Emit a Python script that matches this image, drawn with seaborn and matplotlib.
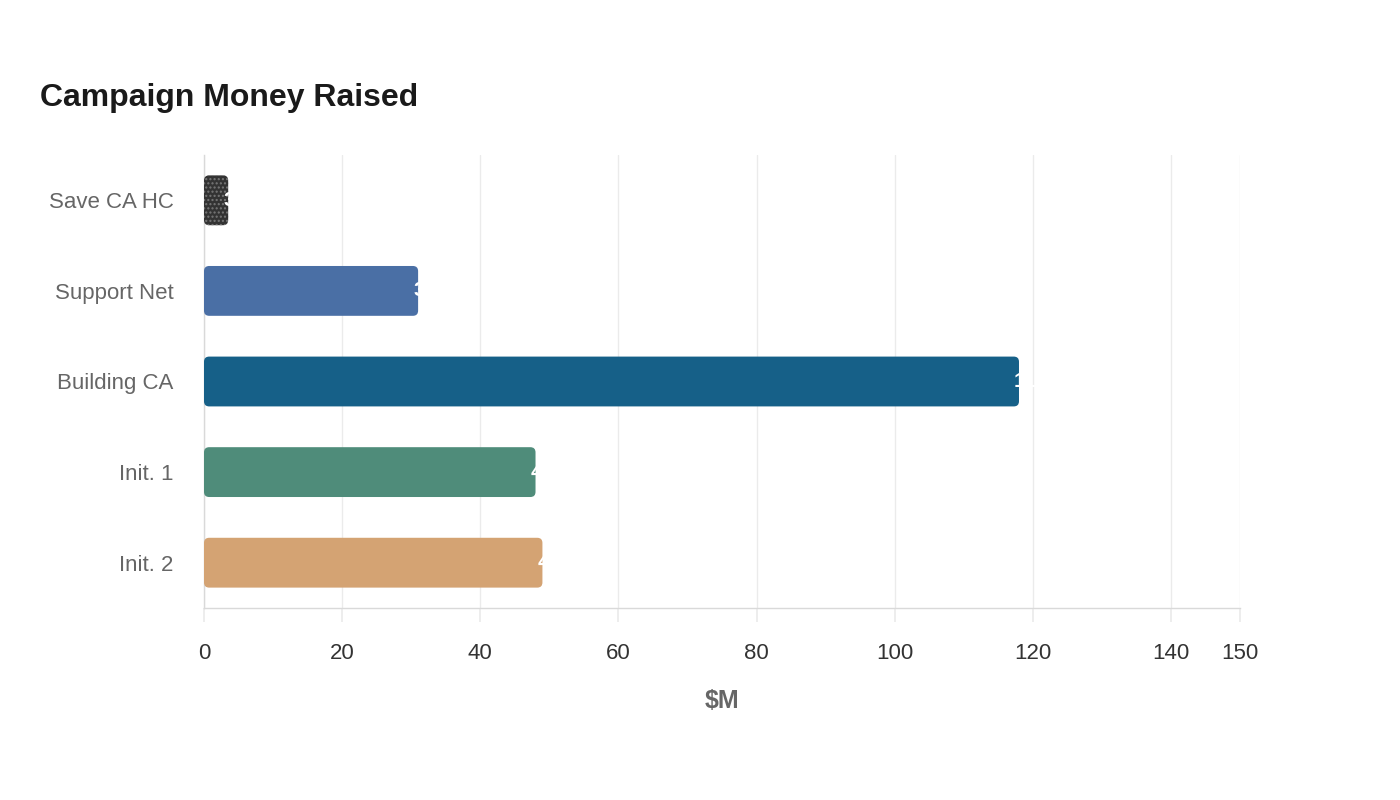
import pandas as pd
import numpy as np
import matplotlib
matplotlib.use("Agg")
import matplotlib.pyplot as plt
import seaborn as sns
from matplotlib.patches import FancyBboxPatch
from matplotlib.transforms import offset_copy

# --- data ---
campaigns = ["Save CA HC", "Support Net", "Building CA", "Init. 1", "Init. 2"]
raised = [3.5, 31, 118, 48, 49]
bar_colors = ["#333333", "#4a6fa5", "#166088", "#4f8c7a", "#d4a373"]
x_ticks = [0, 20, 40, 60, 80, 100, 120, 140, 150]

sns.set_theme(style="white")
plt.rcParams["font.family"] = ["Liberation Sans", "DejaVu Sans"]
plt.rcParams["hatch.linewidth"] = 1.0

df = pd.DataFrame({"campaign": campaigns, "raised": raised})

fig = plt.figure(figsize=(14, 8), dpi=100)
ax = fig.add_axes([204 / 1400, 192 / 800, 1036 / 1400, 453 / 800])

sns.barplot(data=df, y="campaign", x="raised", hue="campaign", palette=bar_colors,
            saturation=1, legend=False, width=0.55, ax=ax, orient="h")

ax.set_xlim(0, 150)
ax.set_ylim(4.5, -0.5)

# swap plain bars for rounded ones
r = 0.75
aspect = 6.907 / 90.6
for i, bar in enumerate(list(ax.patches)):
    x0, y0 = bar.get_x(), bar.get_y()
    w, h = bar.get_width(), bar.get_height()
    fc = bar.get_facecolor()
    bar.set_visible(False)
    fb = FancyBboxPatch((x0, y0), w, h,
                        boxstyle=f"round,pad=0,rounding_size={r}",
                        mutation_aspect=aspect,
                        facecolor=fc, edgecolor="none", zorder=3)
    if i == 0:
        fb.set_hatch("....")
        fb.set_edgecolor("#777777")
        fb.set_linewidth(0)
    ax.add_patch(fb)
    # white value label, clipped at the bar end
    tr = offset_copy(ax.transData, fig=fig, x=-5, y=0, units="dots")
    t = ax.text(x0 + w, y0 + h / 2, f"{raised[i]:g}", transform=tr,
                ha="left", va="center", color="white", fontsize=15,
                fontweight="bold", zorder=4)
    t.set_clip_path(fb)

ax.set_xticks(x_ticks)
ax.grid(axis="x", color="#ebebeb", linewidth=1)
ax.grid(axis="y", visible=False)
ax.set_axisbelow(True)

for side in ["top", "right"]:
    ax.spines[side].set_visible(False)
ax.spines["left"].set_color("#d9d9d9")
ax.spines["bottom"].set_color("#d9d9d9")
ax.spines["left"].set_linewidth(1)
ax.spines["bottom"].set_linewidth(1)

ax.tick_params(axis="x", length=10, color="#ebebeb", labelsize=16,
               labelcolor="#333333", pad=15, bottom=True)
ax.tick_params(axis="y", length=0, labelsize=16, labelcolor="#666666", pad=22)

ax.set_ylabel("")
ax.set_xlabel("$M", fontsize=18, fontweight="bold", color="#666666", labelpad=18)

fig.text(40 / 1400, 1 - 98 / 800, "Campaign Money Raised", fontsize=23,
         fontweight="bold", color="#1a1a1a", ha="left", va="center")

fig.savefig("out.png", dpi=100, facecolor="white")
